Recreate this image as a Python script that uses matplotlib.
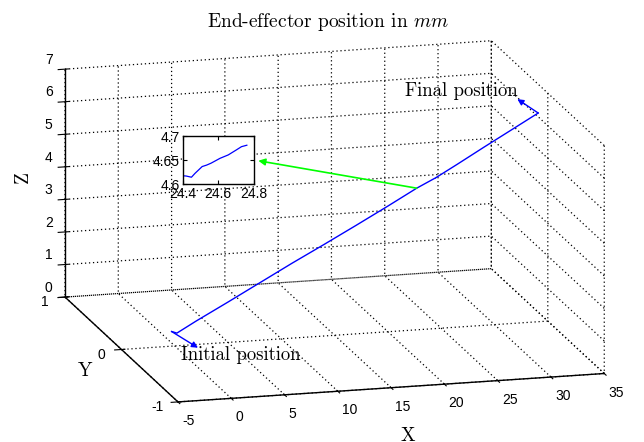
import matplotlib
matplotlib.use('Agg')
import matplotlib.pyplot as plt
from matplotlib.ticker import FormatStrFormatter
from mpl_toolkits.mplot3d import proj3d

# end-effector path in mm (straight move with small tracking wobble)
traj_x = [-0.3, 0.2, 2.0, 5.0, 8.0, 11.0, 14.0, 17.0, 20.0, 22.7,
          24.40, 24.42, 24.45, 24.47, 24.51, 24.535, 24.56, 24.61, 24.656,
          24.70, 24.73, 24.76, 26.5, 29.0, 31.5, 34.1]
traj_y = [0.0] * len(traj_x)
traj_z = [0.45, 0.39, 0.72, 1.24, 1.77, 2.30, 2.81, 3.33, 3.86, 4.35,
          4.618, 4.6175, 4.615, 4.623, 4.637, 4.640, 4.644, 4.654, 4.661,
          4.671, 4.678, 4.681, 5.00, 5.47, 5.93, 6.41]
zoom_part = slice(10, 22)   # samples shown in the close-up
arrow_idx = 9               # sample the close-up arrow starts from

x_ticks = [-5, 0, 5, 10, 15, 20, 25, 30, 35]
y_ticks = [-1, 0, 1]
z_ticks = [0, 1, 2, 3, 4, 5, 6, 7]
inset_xticks = [24.4, 24.6, 24.8]
inset_yticks = [4.6, 4.65, 4.7]

plt.rcParams['font.family'] = 'Liberation Sans'
plt.rcParams['mathtext.fontset'] = 'cm'
plt.rcParams['axes.unicode_minus'] = False
plt.rcParams['grid.color'] = 'k'
plt.rcParams['grid.linestyle'] = (0, (1, 2.2))
plt.rcParams['grid.linewidth'] = 0.9

fig = plt.figure(figsize=(6.44, 4.42), dpi=100)
ax = fig.add_axes([0.1672, -0.01425, 0.6863, 1.0], projection='3d')
ax.set_proj_type('ortho')
ax.view_init(elev=14.4, azim=-105)
ax.set_box_aspect((441.5, 436.6, 235.4), zoom=1.458)

ax.plot(traj_x, traj_y, traj_z, color='b', lw=1.0)

ax.set_xlim(x_ticks[0], x_ticks[-1])
ax.set_ylim(y_ticks[0], y_ticks[-1])
ax.set_zlim(z_ticks[0], z_ticks[-1])
ax.set_xticks(x_ticks)
ax.set_yticks(y_ticks)
ax.set_zticks(z_ticks)
ax.tick_params(labelsize=10, colors='k')
ax.xaxis.set_tick_params(pad=-2)
ax.yaxis.set_tick_params(pad=0)
ax.zaxis.set_tick_params(pad=-3)
plt.setp(ax.xaxis.get_majorticklabels(), ha='left')
plt.setp(ax.yaxis.get_majorticklabels(), va='bottom')
plt.setp(ax.zaxis.get_majorticklabels(), va='bottom')

for axis in (ax.xaxis, ax.yaxis, ax.zaxis):
    axis.set_pane_color((1, 1, 1, 0))
    axis.line.set_color('k')
    axis.line.set_linewidth(1.0)
    axis.set_rotate_label(False)

ax.set_xlabel('X', fontfamily='cmr10', fontsize=14, labelpad=3)
ax.set_ylabel('Y', fontfamily='cmr10', fontsize=14, labelpad=-7)
ax.set_zlabel('Z', fontfamily='cmr10', fontsize=14, rotation=90, labelpad=-8)


def to_2d(i):
    px, py, _ = proj3d.proj_transform(traj_x[i], traj_y[i], traj_z[i], ax.get_proj())
    return px, py


start = to_2d(0)
end = to_2d(len(traj_x) - 1)
head = dict(arrowstyle='<|-', color='b', lw=1.0, shrinkA=0, shrinkB=0,
            mutation_scale=9)

ax.annotate('', xy=end, xytext=(-15, 10), textcoords='offset points',
            arrowprops=head, annotation_clip=False)
ax.annotate('Final position', xy=end, xytext=(-55, 16), textcoords='offset points',
            ha='center', va='center', fontfamily='cmr10', fontsize=13.5,
            annotation_clip=False)
ax.annotate('', xy=start, xytext=(19, -11.7), textcoords='offset points',
            arrowprops=head, annotation_clip=False)
ax.annotate('Initial position', xy=start, xytext=(50, -17), textcoords='offset points',
            ha='center', va='center', fontfamily='cmr10', fontsize=13.5,
            annotation_clip=False)

fig.text(0.51, 1 - 22 / 442, 'End-effector position in $mm$', ha='center',
         va='center', fontfamily='cmr10', fontsize=14)

# close-up of the path
inset = fig.add_axes([0.2834, 0.5826, 0.111, 0.1097])
inset.plot(traj_x[zoom_part], traj_z[zoom_part], color='b', lw=0.9)
inset.set_xlim(inset_xticks[0], inset_xticks[-1])
inset.set_ylim(inset_yticks[0], inset_yticks[-1])
inset.set_xticks(inset_xticks)
inset.set_yticks(inset_yticks)
inset.xaxis.set_major_formatter(FormatStrFormatter('%g'))
inset.yaxis.set_major_formatter(FormatStrFormatter('%g'))
inset.tick_params(direction='in', top=True, right=True, length=3,
                  labelsize=10, pad=2)
for sp in inset.spines.values():
    sp.set_linewidth(1.0)

ax.annotate('', xy=(1.06, 0.49), xycoords=inset.transAxes,
            xytext=to_2d(arrow_idx), textcoords='data',
            arrowprops=dict(arrowstyle='-|>', color=(0, 1, 0), lw=1.2,
                            shrinkA=0, shrinkB=0, mutation_scale=10),
            annotation_clip=False)

fig.savefig('out.png', dpi=100, facecolor='white')
